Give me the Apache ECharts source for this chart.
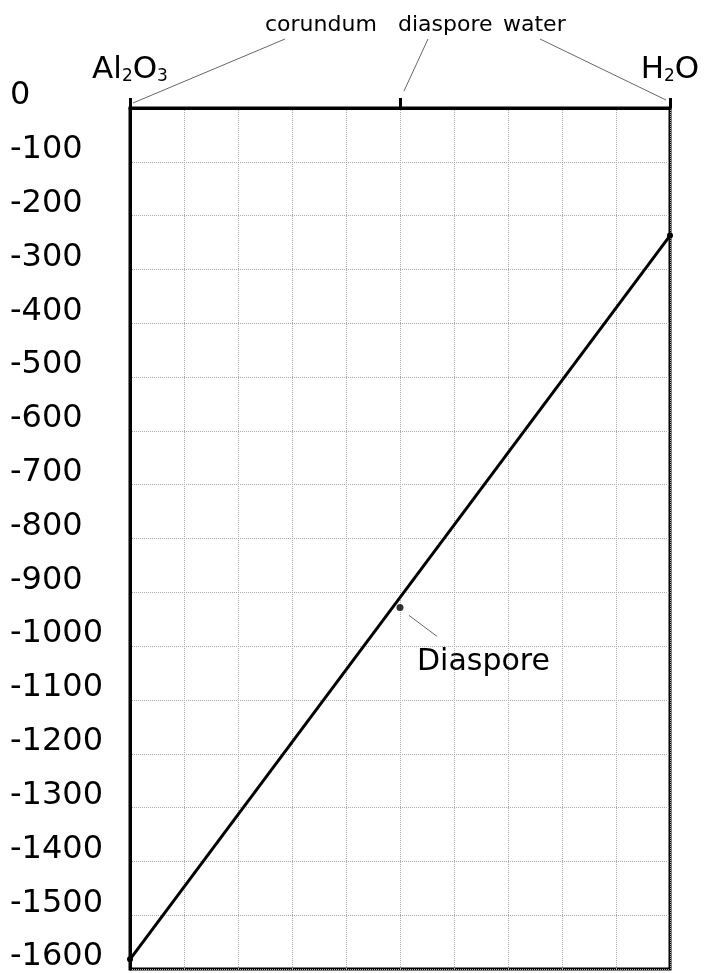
<!DOCTYPE html>
<html>
<head>
<meta charset="utf-8">
<script src="https://cdn.jsdelivr.net/npm/echarts@6/dist/echarts.min.js"></script>
<style>
  html, body { margin: 0; padding: 0; background: #fff; }
  #chart { width: 705px; height: 973px; }
</style>
</head>
<body>
<div id="chart"></div>
<script>
// Al2O3 - H2O join: mole fraction of H2O vs. free energy of formation (kJ/mol)
const endMemberX = [0, 1];
const endMemberG = [-1582, -237];
const phaseNames = ['corundum', 'diaspore', 'water'];
const phaseX = [0, 0.5, 1];
const diasporeX = [0.5];
const diasporeG = [-928];
const yMin = -1600;
const yMax = 0;
const yStep = 100;
const xStep = 0.1;

const font = 'DejaVu Sans';
const gridLine = { lineStyle: { color: '#aaa', type: 'dotted', width: 1 } };

// label / leader line placement, in px relative to the anchor point
const phaseLabelOffsets = [
  { text: [135, -83], from: [3, -5], to: [155, -69] },
  { text: [-2, -83], from: [4, -17], to: [28, -69] },
  { text: [-167, -83], from: [-4, -8], to: [-130, -69] }
];
const diasporeLabelOffset = { text: [17, 55], from: [9, 8], to: [37, 29] };

const chart = echarts.init(document.getElementById('chart'));

chart.setOption({
  animation: false,
  grid: {
    left: 130,
    right: 35,
    top: 108,
    bottom: 3,
    show: true,
    borderColor: '#000',
    borderWidth: 3
  },
  xAxis: [
    {
      // grid only
      type: 'value',
      position: 'bottom',
      min: 0,
      max: 1,
      interval: xStep,
      axisLine: { show: false },
      axisTick: { show: false },
      axisLabel: { show: false },
      splitLine: gridLine
    },
    {
      // composition axis on top
      type: 'value',
      position: 'top',
      min: 0,
      max: 1,
      interval: xStep,
      axisLine: { lineStyle: { color: '#000', width: 3 } },
      axisTick: {
        customValues: phaseX,
        length: 10,
        lineStyle: { color: '#000', width: 3 }
      },
      axisLabel: {
        customValues: endMemberX,
        margin: 23,
        formatter: v => (v === 0 ? '{b|Al}{s|2}{b|O}{s|3}' : '{b|H}{s|2}{b|O}'),
        rich: {
          b: { fontSize: 31, lineHeight: 31, fontFamily: font, color: '#000' },
          s: { fontSize: 17, lineHeight: 17, fontFamily: font, color: '#000', verticalAlign: 'bottom' }
        }
      },
      splitLine: { show: false }
    }
  ],
  yAxis: {
    type: 'value',
    min: yMin,
    max: yMax,
    interval: yStep,
    axisLine: { show: true, lineStyle: { color: '#000', width: 3 } },
    axisTick: { show: false },
    axisLabel: {
      align: 'left',
      margin: 120,
      verticalAlign: 'bottom',
      lineHeight: 24,
      fontSize: 32,
      fontFamily: font,
      color: '#000',
      formatter: v => String(v)
    },
    splitLine: gridLine
  },
  series: [
    {
      type: 'line',
      xAxisIndex: 0,
      data: endMemberX.map((x, i) => [x, endMemberG[i]]),
      symbol: 'circle',
      symbolSize: 6,
      clip: false,
      lineStyle: { color: '#000', width: 3 },
      itemStyle: { color: '#000' }
    },
    {
      type: 'scatter',
      xAxisIndex: 0,
      data: diasporeX.map((x, i) => [x, diasporeG[i]]),
      symbolSize: 7,
      itemStyle: { color: '#000' }
    }
  ]
});

function leader(anchor, o, text, size) {
  return [
    {
      type: 'line',
      silent: true,
      shape: {
        x1: anchor[0] + o.from[0], y1: anchor[1] + o.from[1],
        x2: anchor[0] + o.to[0], y2: anchor[1] + o.to[1]
      },
      style: { stroke: '#666', lineWidth: 1 }
    },
    {
      type: 'text',
      silent: true,
      x: anchor[0] + o.text[0],
      y: anchor[1] + o.text[1],
      style: {
        text: text,
        font: size + 'px "' + font + '"',
        fill: '#000',
        textAlign: 'left',
        textVerticalAlign: 'middle',
        align: 'left',
        verticalAlign: 'middle'
      }
    }
  ];
}

const graphics = [];
phaseX.forEach((x, i) => {
  const anchor = chart.convertToPixel({ xAxisIndex: 0, yAxisIndex: 0 }, [x, yMax]);
  graphics.push(...leader(anchor, phaseLabelOffsets[i], phaseNames[i], 22));
});
const dAnchor = chart.convertToPixel({ xAxisIndex: 0, yAxisIndex: 0 }, [diasporeX[0], diasporeG[0]]);
graphics.push(...leader(dAnchor, diasporeLabelOffset, 'Diaspore', 30));

chart.setOption({ graphic: graphics });
</script>
</body>
</html>
